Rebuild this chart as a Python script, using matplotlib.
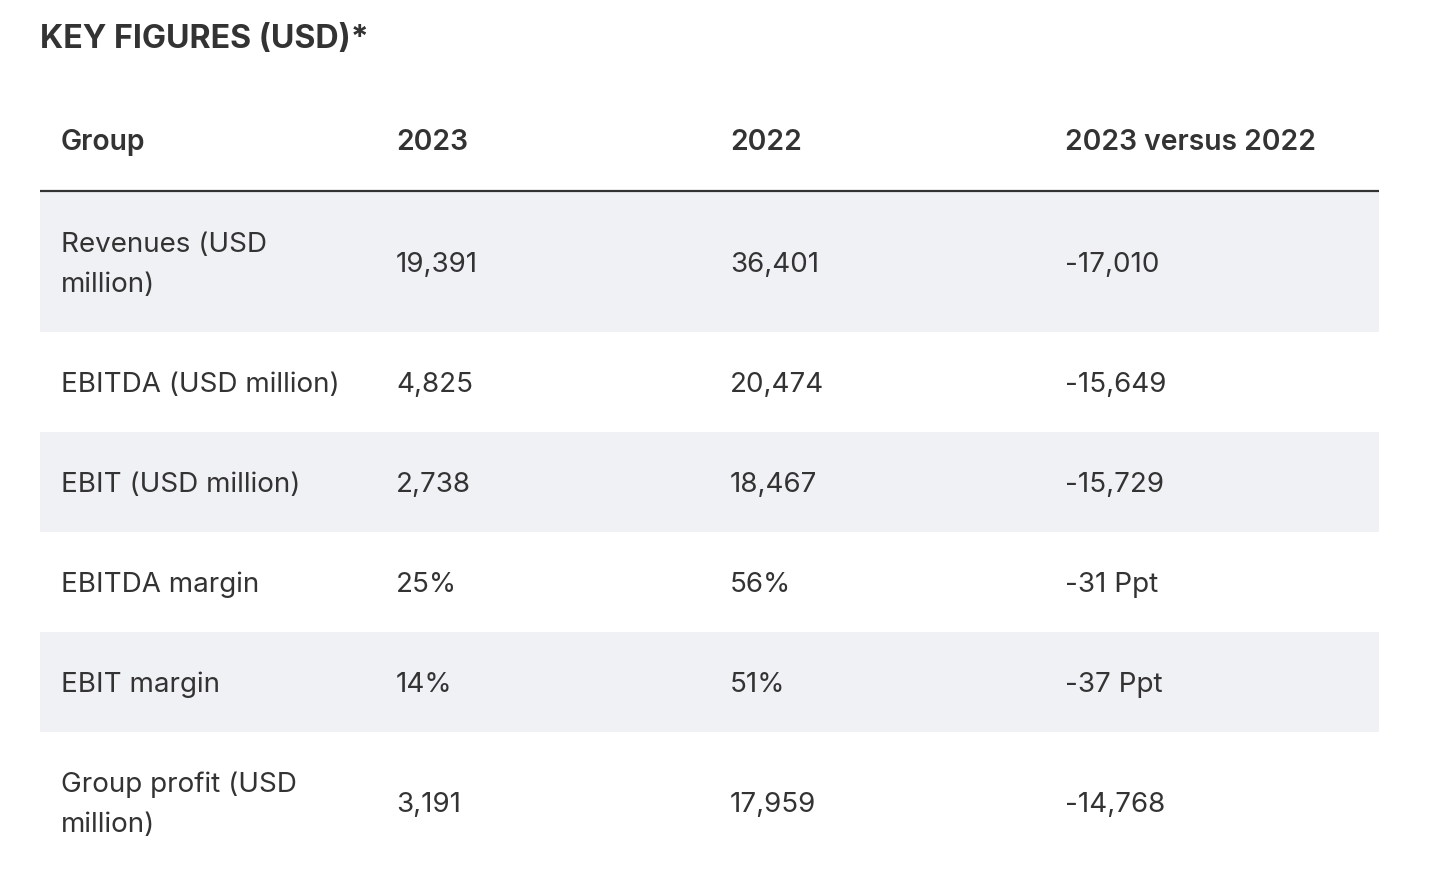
import matplotlib.pyplot as plt
from matplotlib.patches import Rectangle

# dados da tabela
headers = ['Group', '2023', '2022', '2023 versus 2022']
groups = ['Revenues (USD\nmillion)', 'EBITDA (USD million)', 'EBIT (USD million)',
          'EBITDA margin', 'EBIT margin', 'Group profit (USD\nmillion)']
v2023 = ['19,391', '4,825', '2,738', '25%', '14%', '3,191']
v2022 = ['36,401', '20,474', '18,467', '56%', '51%', '17,959']
diff = ['-17,010', '-15,649', '-15,729', '-31 Ppt', '-37 Ppt', '-14,768']

plt.rcParams['font.family'] = ['Inter', 'DejaVu Sans']
cor_texto = '#333333'
cor_fundo = '#f0f1f5'

W, H = 1453, 877
fig = plt.figure(figsize=(W / 100, H / 100), dpi=100)
ax = fig.add_axes([0, 0, 1, 1])
ax.set_xlim(0, W)
ax.set_ylim(H, 0)
ax.axis('off')

colx = [61, 396, 730, 1065]
left, right = 40, 1379
dy = 3  # ajuste do centro vertical do texto

ax.text(40, 37 + dy, 'KEY FIGURES (USD)*', fontsize=23.2, fontweight='bold',
        color=cor_texto, va='center', ha='left')

for x, h in zip(colx, headers):
    ax.text(x, 140 + dy, h, fontsize=20.4, fontweight='semibold', color=cor_texto,
            va='center', ha='left')

y = 191
ax.plot([left, right], [y, y], color=cor_texto, lw=1.6, solid_capstyle='butt')

for i, (g, a, b, d) in enumerate(zip(groups, v2023, v2022, diff)):
    altura = 140 if '\n' in g else 100
    if i % 2 == 0:
        ax.add_patch(Rectangle((left, y + 1), right - left, altura, color=cor_fundo, lw=0))
    yc = y + 1 + altura / 2
    ax.text(colx[0], yc + dy, g, fontsize=20, color=cor_texto, va='center', ha='left',
            linespacing=1.72)
    for x, v in zip(colx[1:], [a, b, d]):
        ax.text(x, yc + dy, v, fontsize=20, color=cor_texto, va='center', ha='left')
    y += altura

fig.savefig('out.png', dpi=100, facecolor='white')
